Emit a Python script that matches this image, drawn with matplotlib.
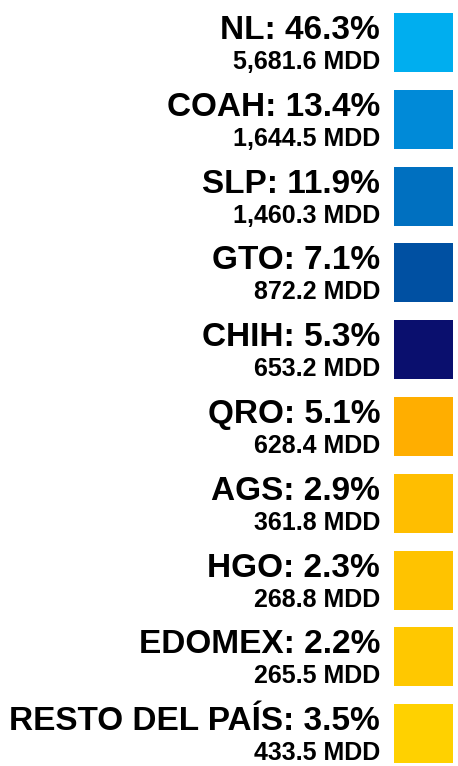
import matplotlib.pyplot as plt

# data
estados = ['NL', 'COAH', 'SLP', 'GTO', 'CHIH', 'QRO', 'AGS', 'HGO', 'EDOMEX', 'RESTO DEL PAÍS']
porcentajes = [46.3, 13.4, 11.9, 7.1, 5.3, 5.1, 2.9, 2.3, 2.2, 3.5]
montos = [5681.6, 1644.5, 1460.3, 872.2, 653.2, 628.4, 361.8, 268.8, 265.5, 433.5]
colores = ['#00AEEF', '#008AD8', '#0070C0', '#0050A2', '#0A0F6E',
           '#FFAE00', '#FFBE00', '#FFC300', '#FFC800', '#FFD100']

plt.rcParams['font.family'] = ['Liberation Sans', 'DejaVu Sans']

fig = plt.figure(figsize=(4.58, 7.66), dpi=100)
ax = fig.add_axes([0, 0, 1, 1])

# one row = 76.8 px, x axis in px
row = 76.8
ax.set_xlim(0, 458)
ax.set_ylim((766 - 42.5) / row, -42.5 / row)
ax.axis('off')

idx = list(range(len(estados)))
ax.barh(idx, [59] * len(idx), left=394, height=59 / row, color=colores)

for i in idx:
    ax.text(380, i - 3.5 / row, f'{estados[i]}: {porcentajes[i]:.1f}%',
            ha='right', va='baseline', fontsize=24, fontweight='bold')
    ax.text(380, i + 26.5 / row, f'{montos[i]:,.1f} MDD',
            ha='right', va='baseline', fontsize=18, fontweight='bold')

fig.savefig('out.png', dpi=100)
